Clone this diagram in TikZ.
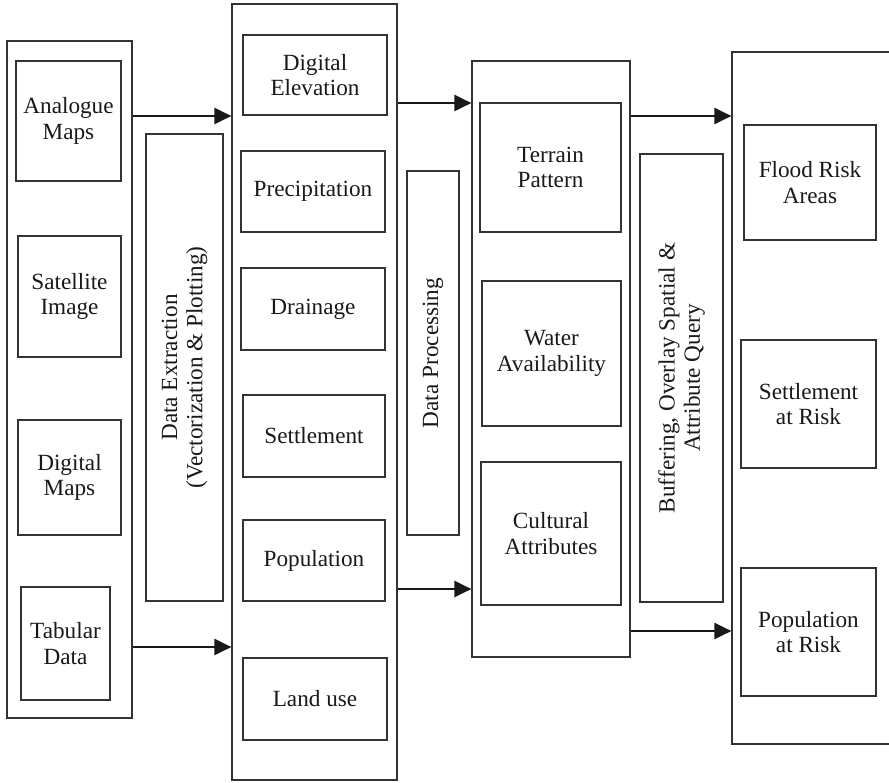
\documentclass[tikz,border=0pt]{standalone}
\usepackage{fontspec}
\setmainfont{Liberation Serif}
\usepackage{xcolor}
\usepackage{tikz}
\usetikzlibrary{arrows.meta}
\tikzstyle{box} = [draw=black!80, line width=0.6pt, align=center, text=black!90, font=\fontsize{11.6}{12.6}\selectfont, inner sep=0pt]
\tikzstyle{frame} = [box]
\tikzstyle{vbox} = [box, rotate=90]
\tikzstyle{arr} = [line width=1.1pt, black!90, -{Triangle[length=8.5pt,width=8pt]}]
\tikzset{sz/.style 2 args={minimum width=#1*0.5pt, minimum height=#2*0.5pt}}

\begin{document}
\begin{tikzpicture}[x=0.5pt,y=-0.5pt]
  \useasboundingbox (0,0) rectangle (889,782);
  \clip (0,0) rectangle (889,782);
  % sources
  \node [frame, sz={125}{677}](col1) at (69.5,379.5) {};
  \node [box, sz={105}{120}](analogue) at (68.5,121) {Analogue\\Maps};
  \node [box, sz={103}{121}](satellite) at (69.5,296.5) {Satellite\\Image};
  \node [box, sz={103}{115}](digmaps) at (69.5,477.5) {Digital\\Maps};
  \node [box, sz={89}{113}](tabular) at (65.5,643.5) {Tabular\\Data};
  \node [vbox, sz={467}{77}](extract) at (184.5,367.5) {Data Extraction\\(Vectorization \& Plotting)};
  % layers
  \node [frame, sz={165}{776}](col2) at (314.5,392) {};
  \node [box, sz={144}{80}](elev) at (315,75) {Digital\\Elevation};
  \node [box, sz={144}{81}](precip) at (313,191.5) {Precipitation};
  \node [box, sz={144}{82}](drain) at (313,309) {Drainage};
  \node [box, sz={142}{82}](settle) at (314,436) {Settlement};
  \node [box, sz={142}{81}](popul) at (314,560.5) {Population};
  \node [box, sz={144}{82}](landuse) at (315,699) {Land use};
  \node [vbox, sz={364}{52}](process) at (433,353) {Data Processing};
  % derived
  \node [frame, sz={158}{596}](col3) at (551,359) {};
  \node [box, sz={141}{129}](terrain) at (550.5,167.5) {Terrain\\Pattern};
  \node [box, sz={139}{145}](water) at (551.5,353.5) {Water\\Availability};
  \node [box, sz={140}{143}](cultural) at (551,533.5) {Cultural\\Attributes};
  \node [vbox, sz={448}{83}](buffer) at (681.5,378) {Buffering, Overlay Spatial \&\\Attribute Query};
  % outputs
  \node [frame, sz={168}{692}](col4) at (816,398) {};
  \node [box, sz={132}{115}](flood) at (810,182.5) {Flood Risk\\Areas};
  \node [box, sz={135}{128}](setrisk) at (808.5,404) {Settlement\\at Risk};
  \node [box, sz={135}{128}](poprisk) at (808.5,632) {Population\\at Risk};

  \foreach \from/\to/\yy in {col1/col2/116,col1/col2/647,col2/col3/103,col2/col3/589,col3/col4/116,col3/col4/631}
    \draw [arr] (\from.east |- 0,\yy) -- (\to.west |- 0,\yy);

\end{tikzpicture}
\end{document}
